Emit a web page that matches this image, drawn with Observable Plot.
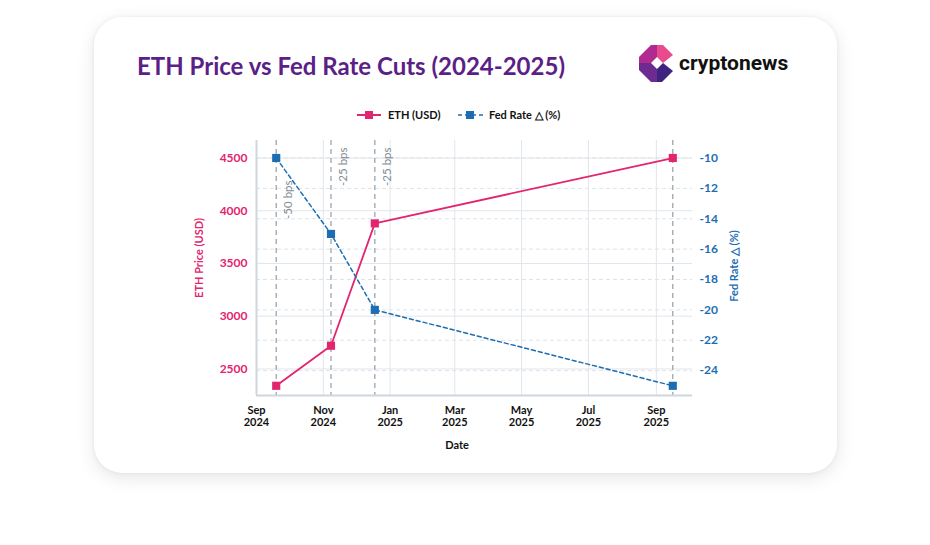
<!DOCTYPE html>
<html><head><meta charset="utf-8">
<script src="https://cdn.jsdelivr.net/npm/d3@7"></script>
<script src="https://cdn.jsdelivr.net/npm/@observablehq/plot@0.6"></script>
<style>
html,body{margin:0;padding:0;background:#fff;}
#page{position:relative;width:930px;height:545px;overflow:hidden;background:#fff;font-family:Lato,"Open Sans",sans-serif;}
#card{position:absolute;left:94px;top:17px;width:743px;height:456px;border-radius:28px;background:#fff;box-shadow:0 5px 18px rgba(0,0,0,0.10),0 0 4px rgba(0,0,0,0.06);}
#chart{position:absolute;left:0;top:0;}
#deco{position:absolute;left:0;top:0;}
</style>
</head><body>
<div id="page"><div id="card"></div><div id="chart"></div>
<svg id="deco" width="930" height="545" font-family="Lato, 'Open Sans', sans-serif">
  <text x="137" y="75" font-size="24" font-weight="700" fill="#5b1f87">ETH Price vs Fed Rate Cuts (2024-2025)</text>
  <g>
    <polygon points="657,45 663,45 673,55 663,63 657,57" fill="#e94c8c"/>
    <polygon points="651,45 657,45 657,57 651,63 639,63 639,57" fill="#b02a90"/>
    <polygon points="639,63 651,63 657,69 657,82 651,82 639,70" fill="#6d2b92"/>
    <polygon points="657,69 663,63 673,71 662,82 657,82" fill="#3e2381"/>
  </g>
  <text x="679" y="70" font-size="21" font-weight="700" fill="#111" font-family="Roboto, sans-serif">cryptonews</text>
  <line x1="357" y1="115" x2="381" y2="115" stroke="#e3246e" stroke-width="2"/>
  <rect x="365" y="111" width="8" height="8" fill="#e3246e"/>
  <text x="388" y="119" font-size="11" font-weight="700" fill="#111">ETH (USD)</text>
  <line x1="458" y1="115" x2="483" y2="115" stroke="#1d6db3" stroke-width="1.6" stroke-dasharray="4,3"/>
  <rect x="466" y="111" width="8" height="8" fill="#1d6db3"/>
  <text x="489" y="119" font-size="11" font-weight="700" fill="#111">Fed Rate △ (%)</text>
  <text transform="translate(198,258) rotate(-90)" text-anchor="middle" dominant-baseline="central" font-size="11" font-weight="700" fill="#e3246e">ETH Price (USD)</text>
  <text transform="translate(733,266) rotate(-90)" text-anchor="middle" dominant-baseline="central" font-size="11" font-weight="700" fill="#1d6db3">Fed Rate △ (%)</text>
  <text x="457" y="444" text-anchor="middle" dominant-baseline="central" font-size="11" font-weight="700" fill="#111">Date</text>
</svg>
</div>
<script>
// Data
const dates = ["2024-09-19", "2024-11-08", "2024-12-18", "2025-09-16"];
const ethPrice = [2340, 2720, 3880, 4500];
const fedRateDelta = [-10, -15, -20, -25];
const cutLabels = ["-50 bps", "-25 bps", "-25 bps", ""];
const ethTicks = [2500, 3000, 3500, 4000, 4500];
const fedTicks = [-24, -22, -20, -18, -16, -14, -12, -10];
const monthTicks = ["2024-09-01", "2024-11-01", "2025-01-01", "2025-03-01", "2025-05-01", "2025-07-01", "2025-09-01"];

const pink = "#e3246e", blue = "#1d6db3";
const parse = d3.utcParse("%Y-%m-%d");
// secondary axis mapped onto the primary (ETH) scale
const FED_A = 5940, FED_B = 144;
const toEth = v => FED_A + FED_B * v;
const fromEth = v => Math.round((v - FED_A) / FED_B);

const rows = dates.map((d, i) => ({date: parse(d), eth: ethPrice[i], fedY: toEth(fedRateDelta[i]), label: cutLabels[i]}));
const months = monthTicks.map(parse);
const xDomain = [parse("2024-09-01"), parse("2025-10-04")];
const yDomain = [2248, 4666];
const fmtM = d3.utcFormat("%b"), fmtY = d3.utcFormat("%Y");

const chart = Plot.plot({
  width: 930, height: 460,
  marginLeft: 256, marginRight: 238, marginTop: 140, marginBottom: 65,
  style: {fontFamily: "Lato, 'Open Sans', sans-serif", background: "transparent", overflow: "visible"},
  x: {type: "utc", domain: xDomain},
  y: {domain: yDomain},
  marks: [
    Plot.gridX(months, {stroke: "#e1e6ec", strokeOpacity: 1, strokeWidth: 1}),
    Plot.gridY(ethTicks, {stroke: "#e1e6ec", strokeOpacity: 1, strokeWidth: 1}),
    Plot.gridY(fedTicks.map(toEth), {stroke: "#dde3e9", strokeOpacity: 1, strokeWidth: 1, strokeDasharray: "4,3"}),
    Plot.ruleX(rows, {x: "date", stroke: "#9ca5ad", strokeWidth: 1.3, strokeDasharray: "5,4"}),
    Plot.ruleY([yDomain[0]], {stroke: "#cfd6dd", strokeWidth: 2}),
    Plot.ruleX([xDomain[0]], {stroke: "#cfd6dd", strokeWidth: 2}),
    Plot.axisY(ethTicks, {anchor: "left", tickSize: 0, tickPadding: 9, tickFormat: d => String(d), fill: pink, fontWeight: 700, fontSize: 12, label: null}),
    Plot.axisY(fedTicks.map(toEth), {anchor: "right", tickSize: 0, tickPadding: 7, tickFormat: v => String(fromEth(v)), fill: blue, fontWeight: 700, fontSize: 12, label: null}),
    Plot.axisX(months, {anchor: "bottom", tickSize: 0, tickPadding: 10, lineHeight: 1.1, tickFormat: d => fmtM(d) + "\n" + fmtY(d), fill: "#111", fontWeight: 700, fontSize: 11, label: null}),
    Plot.line(rows, {x: "date", y: "eth", stroke: pink, strokeWidth: 1.8}),
    Plot.line(rows, {x: "date", y: "fedY", stroke: blue, strokeWidth: 1.5, strokeDasharray: "4,3"}),
    Plot.dot(rows, {x: "date", y: "eth", symbol: "square", fill: pink, r: 4.6}),
    Plot.dot(rows, {x: "date", y: "fedY", symbol: "square", fill: blue, r: 4.6}),
    Plot.text(rows.filter(d => d.label === "-25 bps"), {x: "date", text: "label", frameAnchor: "top", rotate: -90, textAnchor: "end", dx: 8, dy: 7, fill: "#838c95", fontSize: 11.5}),
    Plot.text(rows.filter(d => d.label === "-50 bps"), {x: "date", text: "label", frameAnchor: "top", rotate: -90, textAnchor: "end", dx: 8, dy: 40, fill: "#838c95", fontSize: 11.5})
  ]
});
document.getElementById("chart").appendChild(chart);
</script>
</body></html>
